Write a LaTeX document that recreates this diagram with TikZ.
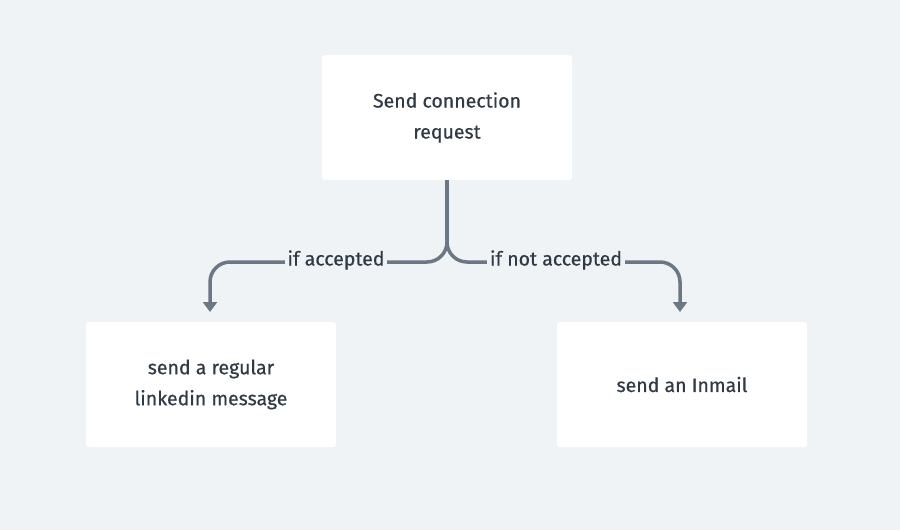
\documentclass[tikz,border=0pt]{standalone}
\usepackage{fontspec}
\setmainfont{Fira Sans}
\newfontfamily\med[FakeBold=0.5]{Fira Sans}
\usetikzlibrary{arrows.meta}
\definecolor{bg}{HTML}{F0F3F6}
\definecolor{ln}{HTML}{6B7785}
\definecolor{tx}{HTML}{2F3A45}
\tikzset{
  box/.style={fill=white,rounded corners=3pt,minimum width=250pt,minimum height=125pt,align=center,text=tx,font=\med\fontsize{19.5}{31}\selectfont},
  conn/.style={draw=ln,line width=3.5pt},
  lbl/.style={fill=bg,text=tx,font=\med\fontsize{19.5}{22}\selectfont,inner sep=3pt},
  tip/.style={-{Triangle[length=10pt,width=14pt]}}
}
\begin{document}
\begin{tikzpicture}[x=1pt,y=-1pt]
\useasboundingbox[fill=bg] (0,0) rectangle (900,530);
\node[box] (top) at (447,117.5) {Send connection\\request};
\node[box] (left) at (211,384.5) {send a regular\\linkedin message};
\node[box] (right) at (682,384.5) {send an Inmail};
\coordinate (s) at (447,180);
\coordinate (j) at (447,262);
\coordinate (la) at (210,312);
\coordinate (ra) at (680,312);
\draw[conn] (s) -- (447,240);
\draw[conn,tip,rounded corners=20pt] (447,238) -- (j) -- (210,262) -- (la);
\draw[conn,tip,rounded corners=20pt] (447,238) -- (j) -- (680,262) -- (ra);
\node[lbl] (l1) at (336,260) {if accepted};
\node[lbl] (l2) at (556,260) {if not accepted};
\end{tikzpicture}
\end{document}
